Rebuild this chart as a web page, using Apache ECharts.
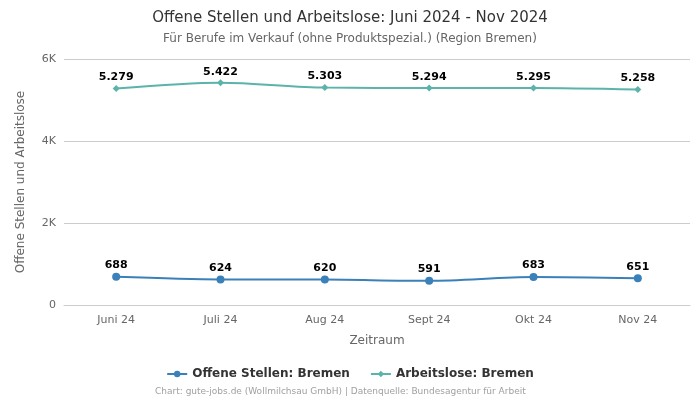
<!DOCTYPE html>
<html><head><meta charset="utf-8">
<script src="https://cdn.jsdelivr.net/npm/echarts@6/dist/echarts.min.js"></script>
<style>html,body{margin:0;padding:0;background:#fff}#c{width:700px;height:400px}</style>
</head><body><div id="c"></div>
<script>
const categories = ['Juni 24','Juli 24','Aug 24','Sept 24','Okt 24','Nov 24'];
const offeneStellen = [688,624,620,591,683,651];
const arbeitslose = [5279,5422,5303,5294,5295,5258];
const yTicks = [0,2000,4000,6000];
const font = 'DejaVu Sans';
function de(v){return String(v).replace(/\B(?=(\d{3})+(?!\d))/g,'.');}
const chart = echarts.init(document.getElementById('c'));
chart.setOption({
  animation:false,
  textStyle:{fontFamily:font},
  title:[
    {text:'Offene Stellen und Arbeitslose: Juni 2024 - Nov 2024',left:'center',top:6,textStyle:{fontFamily:font,fontSize:15,fontWeight:'normal',color:'#333'}},
    {text:'Für Berufe im Verkauf (ohne Produktspezial.) (Region Bremen)',left:'center',top:28,textStyle:{fontFamily:font,fontSize:12,fontWeight:'normal',color:'#666'}},
    {text:'Chart: gute-jobs.de (Wollmilchsau GmbH) | Datenquelle: Bundesagentur für Arbeit',left:150,top:382,textStyle:{fontFamily:font,fontSize:9,fontWeight:'normal',color:'#a0a0a0'}}
  ],
  legend:{bottom:15,left:'center',itemGap:20,itemWidth:20,itemHeight:8,textStyle:{fontFamily:font,fontSize:12,fontWeight:'bold',color:'#333'},
    data:['Offene Stellen: Bremen','Arbeitslose: Bremen']},
  grid:{left:64,right:10,top:59,bottom:95},
  xAxis:{type:'category',data:categories,boundaryGap:true,name:'Zeitraum',nameLocation:'middle',nameGap:30,
    nameTextStyle:{fontFamily:font,fontSize:12,color:'#666'},
    axisLine:{lineStyle:{color:'#ccc'}},axisTick:{show:false},
    axisLabel:{fontFamily:font,fontSize:11,color:'#666',margin:10}},
  yAxis:{type:'value',min:0,max:6000,interval:2000,name:'Offene Stellen und Arbeitslose',nameLocation:'middle',nameGap:37,
    nameTextStyle:{fontFamily:font,fontSize:12,color:'#666'},
    splitLine:{lineStyle:{color:'#ccc'}},
    axisLabel:{fontFamily:font,fontSize:11,color:'#666',formatter:v=>yTicks.includes(v)?(v===0?'0':(v/1000)+'K'):''}},
  series:[
    {name:'Offene Stellen: Bremen',type:'line',smooth:0.3,data:offeneStellen,symbol:'circle',symbolSize:8,
     itemStyle:{color:'#3a80b9'},lineStyle:{width:2},
     label:{show:true,position:'top',distance:2,fontFamily:font,fontSize:11,fontWeight:'bold',color:'#000',formatter:p=>de(p.value)}},
    {name:'Arbeitslose: Bremen',type:'line',smooth:0.3,data:arbeitslose,symbol:'diamond',symbolSize:7,
     itemStyle:{color:'#5ab4a9'},lineStyle:{width:2},
     label:{show:true,position:'top',distance:2,fontFamily:font,fontSize:11,fontWeight:'bold',color:'#000',formatter:p=>de(p.value)}}
  ]
});
</script></body></html>
